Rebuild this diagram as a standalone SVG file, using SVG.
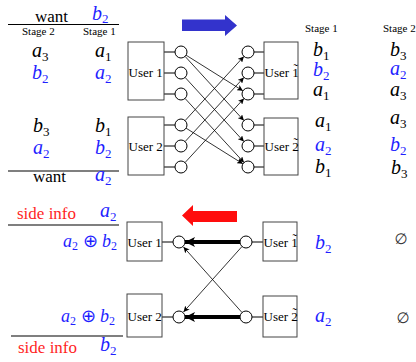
<svg xmlns="http://www.w3.org/2000/svg" width="416" height="362" viewBox="0 0 416 362">
<style>
text{font-family:"Liberation Serif","Times New Roman",serif;fill:#000}
.m{font-size:20px}
.m .v{font-style:italic}
.s{font-size:13px}
.blue{fill:#1f1fff}
.red{fill:#ff1f1f}
.w{font-size:17px}
.st{font-size:11px}
.u{font-size:13px}
.box{fill:#fff;stroke:#444;stroke-width:1}
.c{fill:#fff;stroke:#000;stroke-width:1}
.ln{stroke:#000;stroke-width:1;fill:none}
.thin{stroke:#000;stroke-width:0.8;fill:none;marker-end:url(#ah)}
.thick{stroke:#000;stroke-width:4;fill:none;marker-end:url(#ahb)}
.rule{stroke:#000;stroke-width:1.2}
.es{font-family:"DejaVu Sans",sans-serif;font-size:15px;fill:#333}
</style>
<defs>
<marker id="ah" markerUnits="userSpaceOnUse" markerWidth="8" markerHeight="6" refX="6" refY="3" orient="auto"><path d="M0,0 L6,3 L0,6 L1.5,3 Z" fill="#000"/></marker>
<marker id="ahb" markerUnits="userSpaceOnUse" markerWidth="12" markerHeight="12" refX="10" refY="5" orient="auto"><path d="M0,0 L10,5 L0,10 L2.5,5 Z" fill="#000"/></marker>
</defs>

<!-- top-left table -->
<g id="tl-table">
<text class="w" x="35" y="21.5">want</text>
<text class="m blue" x="92" y="20"><tspan class="v">b</tspan><tspan class="s" dy="3">2</tspan></text>
<line class="rule" x1="8" y1="24.5" x2="119" y2="24.5"/>
<text class="st" x="22" y="34.5">Stage 2</text>
<text class="st" x="83" y="34.5">Stage 1</text>
<text class="m" x="32" y="57"><tspan class="v">a</tspan><tspan class="s" dy="4">3</tspan></text>
<text class="m" x="95" y="57"><tspan class="v">a</tspan><tspan class="s" dy="4">1</tspan></text>
<text class="m blue" x="32" y="79"><tspan class="v">b</tspan><tspan class="s" dy="4">2</tspan></text>
<text class="m blue" x="95" y="79"><tspan class="v">a</tspan><tspan class="s" dy="4">2</tspan></text>
<text class="m" x="33" y="132"><tspan class="v">b</tspan><tspan class="s" dy="4">3</tspan></text>
<text class="m" x="95" y="132"><tspan class="v">b</tspan><tspan class="s" dy="4">1</tspan></text>
<text class="m blue" x="33" y="154"><tspan class="v">a</tspan><tspan class="s" dy="4">2</tspan></text>
<text class="m blue" x="95" y="154"><tspan class="v">b</tspan><tspan class="s" dy="4">2</tspan></text>
<line class="rule" x1="8" y1="171" x2="119" y2="171"/>
<text class="w" x="33" y="182">want</text>
<text class="m blue" x="95" y="181"><tspan class="v">a</tspan><tspan class="s" dy="4">2</tspan></text>
</g>

<!-- top-right table -->
<g id="tr-table">
<text class="st" x="305" y="32">Stage 1</text>
<text class="st" x="383" y="32">Stage 2</text>
<text class="m" x="313" y="56"><tspan class="v">b</tspan><tspan class="s" dy="4">1</tspan></text>
<text class="m" x="390" y="56"><tspan class="v">b</tspan><tspan class="s" dy="4">3</tspan></text>
<text class="m blue" x="313" y="76"><tspan class="v">b</tspan><tspan class="s" dy="4">2</tspan></text>
<text class="m blue" x="390" y="75"><tspan class="v">a</tspan><tspan class="s" dy="4">2</tspan></text>
<text class="m" x="313" y="96"><tspan class="v">a</tspan><tspan class="s" dy="4">1</tspan></text>
<text class="m" x="390" y="96"><tspan class="v">a</tspan><tspan class="s" dy="4">3</tspan></text>
<text class="m" x="315" y="127"><tspan class="v">a</tspan><tspan class="s" dy="4">1</tspan></text>
<text class="m" x="390" y="124"><tspan class="v">a</tspan><tspan class="s" dy="4">3</tspan></text>
<text class="m blue" x="315" y="151"><tspan class="v">a</tspan><tspan class="s" dy="4">2</tspan></text>
<text class="m blue" x="390" y="151"><tspan class="v">b</tspan><tspan class="s" dy="4">2</tspan></text>
<text class="m" x="315" y="173"><tspan class="v">b</tspan><tspan class="s" dy="4">1</tspan></text>
<text class="m" x="391" y="174"><tspan class="v">b</tspan><tspan class="s" dy="4">3</tspan></text>
</g>

<!-- blue arrow -->
<polygon id="arrow-blue" points="182,19.5 225,19.5 225,15 237,25.5 225,36 225,31 182,31" fill="#3333cc"/>

<!-- top nodes -->
<g id="top-user1">
<line class="ln" x1="164" y1="52" x2="175" y2="52"/>
<line class="ln" x1="160" y1="73" x2="175" y2="73"/>
<line class="ln" x1="164" y1="94" x2="175" y2="94"/>
<rect class="box" x="128" y="42" width="36" height="58"/>
<text class="u" x="128.5" y="77">User 1</text>
<circle class="c" cx="181" cy="52" r="6"/>
<circle class="c" cx="181" cy="73" r="6"/>
<circle class="c" cx="181" cy="94" r="6"/>
</g>
<g id="top-user2">
<line class="ln" x1="164" y1="125" x2="175" y2="125"/>
<line class="ln" x1="160" y1="146" x2="175" y2="146"/>
<line class="ln" x1="164" y1="167" x2="175" y2="167"/>
<rect class="box" x="128" y="117" width="36" height="58"/>
<text class="u" x="128.5" y="150.5">User 2</text>
<circle class="c" cx="181" cy="125" r="6"/>
<circle class="c" cx="181" cy="146" r="6"/>
<circle class="c" cx="181" cy="167" r="6"/>
</g>
<g id="top-user1t">
<line class="ln" x1="254" y1="52" x2="264" y2="52"/>
<line class="ln" x1="254" y1="73" x2="266" y2="73"/>
<line class="ln" x1="254" y1="94" x2="264" y2="94"/>
<rect class="box" x="264" y="42" width="34" height="57"/>
<text class="u" x="264.5" y="77">User 1<tspan dx="-5.4" dy="-4">˜</tspan></text>
<circle class="c" cx="248" cy="52" r="6"/>
<circle class="c" cx="248" cy="73" r="6"/>
<circle class="c" cx="248" cy="94" r="6"/>
</g>
<g id="top-user2t">
<line class="ln" x1="254" y1="125" x2="264" y2="125"/>
<line class="ln" x1="254" y1="146" x2="266" y2="146"/>
<line class="ln" x1="254" y1="167" x2="264" y2="167"/>
<rect class="box" x="264" y="118" width="34" height="57"/>
<text class="u" x="264.5" y="150.5">User 2<tspan dx="-5.4" dy="-4">˜</tspan></text>
<circle class="c" cx="248" cy="125" r="6"/>
<circle class="c" cx="248" cy="146" r="6"/>
<circle class="c" cx="248" cy="167" r="6"/>
</g>

<!-- top connectors -->
<g id="top-connectors">
<line class="thin" x1="186.1" y1="55.2" x2="242.9" y2="90.8"/>
<line class="thin" x1="185.1" y1="56.4" x2="243.9" y2="120.6"/>
<line class="thin" x1="185.1" y1="77.4" x2="243.9" y2="141.6"/>
<line class="thin" x1="185.0" y1="98.4" x2="244.0" y2="162.6"/>
<line class="thin" x1="185.1" y1="120.6" x2="243.9" y2="56.4"/>
<line class="thin" x1="186.1" y1="128.2" x2="242.9" y2="163.8"/>
<line class="thin" x1="185.1" y1="141.6" x2="243.9" y2="77.4"/>
<line class="thin" x1="185.0" y1="162.6" x2="244.0" y2="98.4"/>
</g>

<!-- bottom-left text -->
<g id="bl-text">
<text class="w red" x="17" y="219">side info</text>
<text class="m blue" x="100" y="217"><tspan class="v">a</tspan><tspan class="s" dy="4">2</tspan></text>
<line class="rule" x1="8" y1="225" x2="119" y2="225"/>
<text class="blue" font-size="18" x="117" y="247" text-anchor="end"><tspan font-style="italic">a</tspan><tspan font-size="12" dy="3">2</tspan><tspan dy="-3"> ⊕ </tspan><tspan font-style="italic">b</tspan><tspan font-size="12" dy="3">2</tspan></text>
<text class="blue" font-size="18" x="115" y="322" text-anchor="end"><tspan font-style="italic">a</tspan><tspan font-size="12" dy="3">2</tspan><tspan dy="-3"> ⊕ </tspan><tspan font-style="italic">b</tspan><tspan font-size="12" dy="3">2</tspan></text>
<line class="rule" x1="11" y1="336" x2="123" y2="336"/>
<text class="w red" x="18" y="353">side info</text>
<text class="m blue" x="100" y="351"><tspan class="v">b</tspan><tspan class="s" dy="4">2</tspan></text>
</g>

<!-- bottom-right text -->
<g id="br-text">
<text class="m blue" x="315" y="249"><tspan class="v">b</tspan><tspan class="s" dy="4">2</tspan></text>
<text class="es" x="401" y="244" text-anchor="middle">∅</text>
<text class="m blue" x="315" y="322"><tspan class="v">a</tspan><tspan class="s" dy="4">2</tspan></text>
<text class="es" x="403" y="323" text-anchor="middle">∅</text>
</g>

<!-- red arrow -->
<polygon id="arrow-red" points="237,211 193,211 193,205 182,215.5 193,226 193,222 237,222" fill="#ff0d0d"/>

<!-- bottom nodes -->
<g id="bot-user1">
<line class="ln" x1="160" y1="242" x2="173" y2="242"/>
<rect class="box" x="127" y="222" width="35" height="39"/>
<text class="u" x="127.5" y="247">User 1</text>
<circle class="c" cx="179" cy="242" r="6"/>
</g>
<g id="bot-user2">
<line class="ln" x1="160" y1="317" x2="173" y2="317"/>
<rect class="box" x="127" y="294" width="35" height="43"/>
<text class="u" x="127.5" y="321">User 2</text>
<circle class="c" cx="179" cy="317" r="6"/>
</g>
<g id="bot-user1t">
<line class="ln" x1="252" y1="242" x2="265" y2="242"/>
<rect class="box" x="263" y="222" width="34" height="39"/>
<text class="u" x="263.5" y="247">User 1<tspan dx="-5.4" dy="-4">˜</tspan></text>
<circle class="c" cx="246" cy="242" r="6"/>
</g>
<g id="bot-user2t">
<line class="ln" x1="252" y1="317" x2="265" y2="317"/>
<rect class="box" x="263" y="296" width="34" height="41"/>
<text class="u" x="263.5" y="321">User 2<tspan dx="-5.4" dy="-4">˜</tspan></text>
<circle class="c" cx="246" cy="317" r="6"/>
</g>

<!-- bottom connectors -->
<g id="bot-connectors">
<line class="thick" x1="240" y1="242" x2="185" y2="242"/>
<line class="thick" x1="240" y1="317" x2="185" y2="317"/>
<line class="thin" x1="242" y1="246.5" x2="183.5" y2="312"/>
<line class="thin" x1="242" y1="312.5" x2="183.5" y2="247"/>
</g>
</svg>
